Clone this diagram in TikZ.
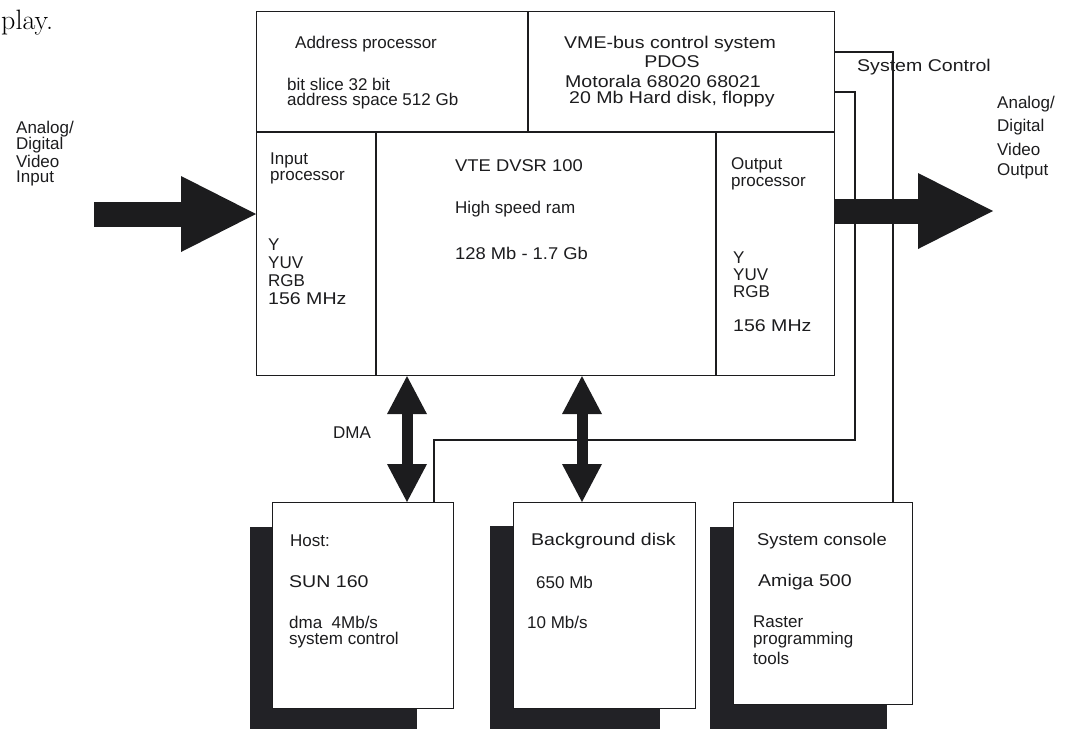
\documentclass[tikz,border=0pt]{standalone}
\usepackage{fontspec}
\usetikzlibrary{arrows.meta}
\newfontfamily\labelfont{Liberation Sans}
\newfontfamily\widefont[FakeStretch=1.15]{Liberation Sans}
\newfontfamily\midfont[FakeStretch=1.08]{Liberation Sans}
\definecolor{ink}{RGB}{28,28,30}
\definecolor{shadowink}{RGB}{34,34,38}

\begin{document}
\begin{tikzpicture}[x=1pt,y=-1pt,
  txt/.style={anchor=west, inner sep=0pt, font=\labelfont\fontsize{17}{19}\selectfont, text=ink},
  wtxt/.style={txt, font=\widefont\fontsize{17}{19}\selectfont},
  mtxt/.style={txt, font=\midfont\fontsize{17}{19}\selectfont},
  ctxt/.style={txt, anchor=center},
  box/.style={draw=ink, fill=white, line width=1.1pt, anchor=north west, inner sep=0pt},
  wire/.style={draw=ink, line width=1.1pt},
  shade/.style={fill=shadowink},
  bus/.style={draw=ink, line width=11pt,
    {Triangle[length=38pt,width=40pt,line width=0pt]}-{Triangle[length=38pt,width=40pt,line width=0pt]}},
  feed/.style={draw=ink, line width=25pt, -{Triangle[length=75pt,width=76pt,line width=0pt]}},
]
\useasboundingbox (0,0) rectangle (1066,729);

% running text above the figure
\node[anchor=base west, inner sep=0pt, font=\fontsize{28}{31}\selectfont] (caption) at (1,29) {play.};

% main video store unit
\node[box, minimum width=578pt, minimum height=364pt] (main) at (256,11) {};
\draw[wire] (256,132) -- (834,132);
\draw[wire] (528,11) -- (528,132);
\draw[wire] (376,132) -- (376,375);
\draw[wire] (716,132) -- (716,375);

% address processor cell
\node[txt] (ap1) at (295,44) {Address processor};
\node[txt] (ap2) at (287,84) {bit slice 32 bit};
\node[txt] (ap3) at (287,101) {address space 512 Gb};

% VME cell
\node[wtxt] (vme1) at (564,44) {VME-bus control system};
\node[wtxt, anchor=center] (vme2) at (672,62) {PDOS};
\node[wtxt] (vme3) at (565,81) {Motorala 68020 68021};
\node[wtxt] (vme4) at (569,99) {20 Mb Hard disk, floppy};

% input processor cell
\node[txt] (ip1) at (270,160) {Input};
\node[txt] (ip2) at (270,178) {processor};
\node[txt] (ip3) at (268,245) {Y};
\node[txt] (ip4) at (268,263) {YUV};
\node[txt] (ip5) at (268,281) {RGB};
\node[wtxt] (ip6) at (268,299) {156 MHz};

% memory cell
\node[mtxt] (ram1) at (455,166) {VTE DVSR 100};
\node[txt] (ram2) at (455,209) {High speed ram};
\node[mtxt] (ram3) at (455,253) {128 Mb - 1.7 Gb};

% output processor cell
\node[txt] (op1) at (731,165) {Output};
\node[txt] (op2) at (731,184) {processor};
\node[txt] (op3) at (733,258) {Y};
\node[txt] (op4) at (733,275) {YUV};
\node[txt] (op5) at (733,292) {RGB};
\node[wtxt] (op6) at (733,326) {156 MHz};

% peripheral boxes with their drop shadows
\fill[shade] (250,527) rectangle (417,729);
\node[box, minimum width=181pt, minimum height=206pt] (host) at (272,502) {};
\fill[shade] (490,526) rectangle (660,729);
\node[box, minimum width=182pt, minimum height=206pt] (disk) at (513,502) {};
\fill[shade] (710,527) rectangle (887,729);
\node[box, minimum width=179pt, minimum height=202pt] (console) at (733,502) {};

\node[txt] (h1) at (290,541) {Host:};
\node[wtxt] (h2) at (289,582) {SUN 160};
\node[txt] (h3) at (289,622) {dma\ \ 4Mb/s};
\node[txt] (h4) at (289,640) {system control};

\node[wtxt] (d1) at (531,541) {Background disk};
\node[txt] (d2) at (536,582) {650 Mb};
\node[txt] (d3) at (527,622) {10 Mb/s};

\node[mtxt] (c1) at (757,541) {System console};
\node[wtxt] (c2) at (758,582) {Amiga 500};
\node[txt] (c3) at (753,622) {Raster};
\node[txt] (c4) at (753,640) {programming};
\node[txt] (c5) at (753,658) {tools};

% system control wiring
\coordinate (scA) at (893,52);
\coordinate (scB) at (855,92);
\coordinate (hostin) at (434,440);
\draw[wire] (main.east |- scA) -- (scA) -- (scA |- console.north);
\draw[wire] (main.east |- scB) -- (scB) -- (scB |- hostin) -- (hostin) -- (hostin |- host.north);
\node[wtxt] (sc) at (857,67) {System Control};

% DMA and disk buses
\coordinate (dmaX) at (407,0);
\coordinate (diskX) at (582,0);
\draw[bus] (dmaX |- main.south) -- (dmaX |- host.north);
\draw[bus] (diskX |- main.south) -- (diskX |- disk.north);
\node[ctxt] (dma) at (352,433) {DMA};

% video in and out
\coordinate (vin) at (94,214);
\coordinate (vout) at (993,211);
\draw[feed] (vin) -- (main.west |- vin);
\draw[feed] (main.east |- vout) -- (vout);

\node[txt] (in1) at (16,129) {Analog/};
\node[txt] (in2) at (16,145) {Digital};
\node[txt] (in3) at (16,161) {Video};
\node[txt] (in4) at (16,178) {Input};

\node[txt] (out1) at (997,104) {Analog/};
\node[txt] (out2) at (997,127) {Digital};
\node[txt] (out3) at (997,149) {Video};
\node[txt] (out4) at (997,171) {Output};
\end{tikzpicture}
\end{document}
